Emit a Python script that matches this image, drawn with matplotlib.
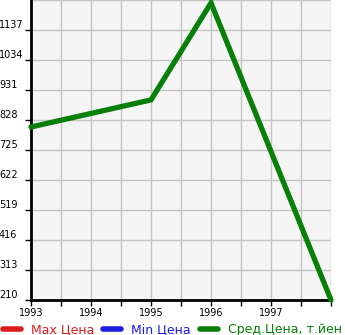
import matplotlib
matplotlib.use("Agg")
import numpy as np
import matplotlib.pyplot as plt
from matplotlib.lines import Line2D

# data
years = [1993, 1995, 1996, 1998]
avg_price = [804, 897, 1230, 210]
y_ticks = [210, 313, 416, 519, 622, 725, 828, 931, 1034, 1137]
x_ticks = [1993, 1994, 1995, 1996, 1997]
legend_labels = ["Max Цена", "Min Цена", "Сред.Цена, т.йен"]

fig = plt.figure(figsize=(3.45, 3.35), dpi=100)
ax = fig.add_axes([31 / 345, 35 / 335, 300 / 345, 300 / 335])
ax.set_facecolor("#f5f5f5")

ax.plot([], [], color="#dd1c1c", lw=4, solid_capstyle="round")
ax.plot([], [], color="#1c1cdd", lw=4, solid_capstyle="round")
ax.plot(years, avg_price, color="#087f08", lw=3.8, solid_capstyle="round",
        solid_joinstyle="miter", zorder=3, clip_on=False)

ax.set_xlim(1993, 1998)
ax.set_ylim(210, 1240)
ax.set_xticks(x_ticks)
ax.set_xticks(np.arange(1993.5, 1998.01, 0.5), minor=True)
ax.set_yticks(y_ticks)
ax.set_yticks([1240], minor=True)
ax.grid(True, which="both", color="#c4c4c4", lw=1)
ax.set_axisbelow(True)

for s in ["top", "right"]:
    ax.spines[s].set_visible(False)
for s in ["left", "bottom"]:
    ax.spines[s].set_linewidth(2)

ax.tick_params(axis="x", which="both", length=4, width=1, labelsize=7, pad=2)
ax.tick_params(axis="y", which="major", length=4, width=1, labelsize=7, pad=19)
ax.tick_params(axis="y", which="minor", length=0)
for lbl in ax.get_yticklabels():
    lbl.set_ha("left")
    lbl.set_va("bottom")

handles = [Line2D([], [], color=c, lw=4, solid_capstyle="round")
           for c in ["#dd1c1c", "#1c1cdd", "#087f08"]]
fig.legend(handles, legend_labels, loc="lower left",
           bbox_to_anchor=(1.5 / 345, -2.5 / 335),
           ncol=3, frameon=False, fontsize=9, handlelength=1.45,
           handletextpad=0.8, columnspacing=0.72, borderpad=0.1,
           borderaxespad=0.0, labelcolor="linecolor")

fig.savefig("out.png", dpi=100)
